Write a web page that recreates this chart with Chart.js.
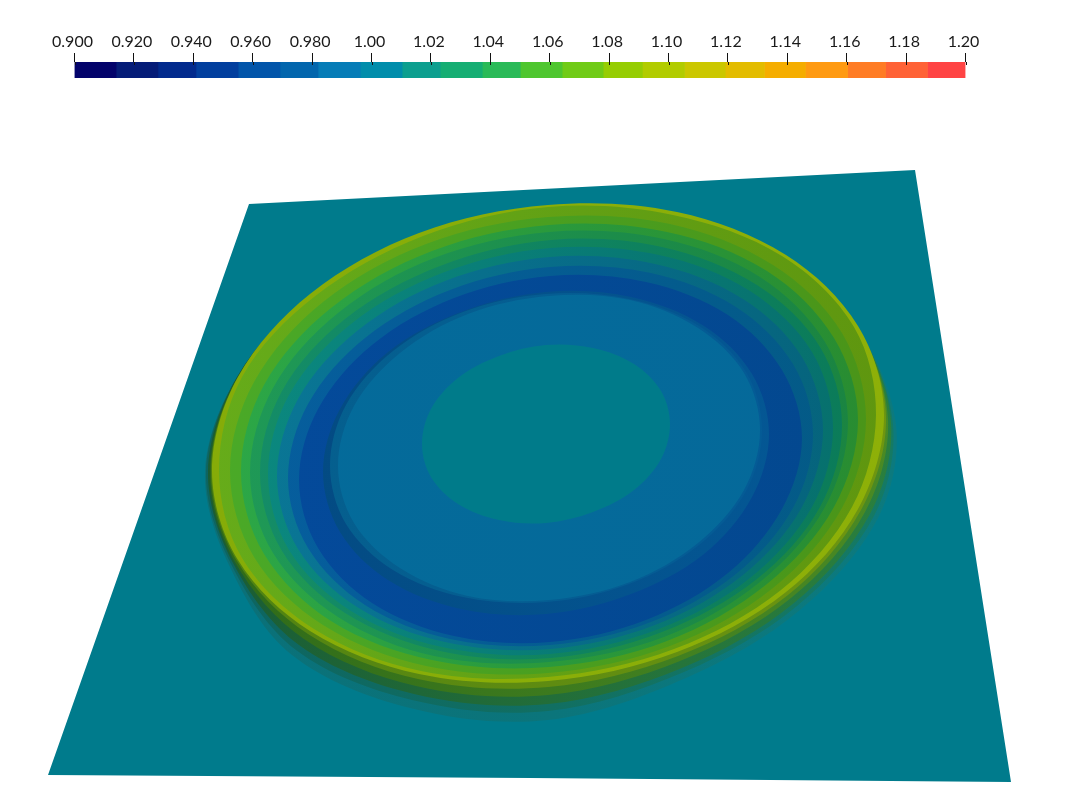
<!DOCTYPE html>
<html>
<head>
<meta charset="utf-8">
<title>Colour map</title>
<script src="https://cdn.jsdelivr.net/npm/chart.js@4/dist/chart.umd.min.js"></script>
<style>
  html, body { margin: 0; padding: 0; background: #fff; }
  canvas { position: absolute; left: 0; top: 0; }
</style>
</head>
<body>
<canvas id="surface" width="1082" height="810"></canvas>
<canvas id="colorbar" width="1082" height="810"></canvas>
<script>
'use strict';

var tickValues = [0.90, 0.92, 0.94, 0.96, 0.98, 1.00, 1.02, 1.04, 1.06, 1.08, 1.10, 1.12, 1.14, 1.16, 1.18, 1.20];
var tickLabels = ['0.900', '0.920', '0.940', '0.960', '0.980', '1.00', '1.02', '1.04', '1.06', '1.08', '1.10', '1.12', '1.14', '1.16', '1.18', '1.20'];
// edges of the 22 discrete colour steps
var barEdges = [0.9, 0.914, 0.9281, 0.9409, 0.9551, 0.9692, 0.982, 0.9962, 1.0103, 1.0231, 1.0373, 1.0501, 1.0642, 1.078, 1.0912, 1.1054, 1.1191, 1.1323, 1.1461, 1.1603, 1.1731, 1.1872, 1.2];
var barColors = ['#03036b', '#051c78', '#022a8d', '#023f9e', '#0255aa', '#0366ad', '#067cb7', '#018dab', '#0c9f8f', '#16ae73', '#2aba58', '#4ec62f', '#70cb17', '#96cd03', '#b2cc00', '#cbc700', '#e3bc00', '#f5ad00', '#ff9a12', '#ff7c25', '#ff6236', '#ff4444'];

// flat sheet outline, read in image units
var sheetX = [249, 915, 1011, 530, 48];
var sheetY = [204, 170, 782, 778, 775];
var sheetColor = '#007b8c';

// contour outlines from the outer skirt inward
var contourX = [
  [896, 878, 800, 686, 548, 410, 292, 229, 205, 237, 311, 419, 548, 676, 785, 857],
  [893, 874, 797, 684, 548, 412, 296, 231, 206, 237, 311, 419, 548, 676, 785, 857],
  [891, 870, 794, 682, 548, 414, 299, 233, 208, 237, 311, 419, 548, 676, 785, 857],
  [888, 865, 791, 680, 548, 416, 304, 235, 210, 238, 311, 419, 548, 676, 785, 857],
  [886, 861, 788, 678, 548, 418, 308, 237, 211, 238, 311, 419, 548, 676, 785, 857],
  [884, 858, 786, 677, 548, 419, 310, 238, 212, 238, 310, 419, 548, 677, 786, 858],
  [876, 852, 781, 674, 548, 421, 314, 242, 219, 242, 314, 423, 548, 673, 782, 854],
  [866, 842, 773, 670, 548, 426, 323, 254, 230, 254, 323, 426, 548, 670, 773, 842],
  [858, 834, 767, 667, 549, 432, 331, 264, 241, 264, 331, 432, 549, 667, 767, 834],
  [848, 825, 760, 664, 549, 434, 338, 273, 250, 273, 338, 434, 549, 664, 760, 825],
  [842, 820, 757, 662, 551, 440, 345, 282, 260, 282, 345, 440, 551, 662, 757, 820],
  [833, 812, 750, 659, 550, 442, 351, 289, 268, 289, 351, 442, 550, 659, 750, 812],
  [823, 802, 743, 655, 550, 445, 357, 298, 277, 298, 357, 445, 550, 655, 743, 802],
  [813, 793, 736, 651, 550, 450, 365, 308, 288, 308, 365, 450, 550, 651, 736, 793],
  [802, 782, 728, 646, 550, 454, 372, 318, 299, 318, 372, 454, 550, 646, 728, 782],
  [769, 752, 704, 631, 546, 461, 388, 340, 323, 340, 388, 461, 546, 631, 704, 752],
  [762, 746, 699, 629, 546, 463, 393, 346, 330, 346, 393, 463, 546, 629, 699, 746],
  [760, 744, 698, 630, 549, 468, 400, 354, 338, 354, 400, 468, 549, 630, 698, 744],
  [670, 661, 634, 593, 546, 499, 458, 431, 422, 431, 458, 499, 546, 593, 634, 661]
];
var contourY = [
  [425, 518, 610, 678, 720, 708, 655, 565, 471, 377, 295, 234, 206, 213, 256, 327],
  [424, 516, 606, 672, 711, 700, 650, 564, 471, 377, 295, 234, 206, 213, 256, 327],
  [422, 514, 603, 668, 704, 694, 645, 563, 471, 377, 295, 234, 206, 213, 256, 327],
  [420, 512, 598, 661, 695, 686, 639, 562, 471, 377, 295, 234, 206, 213, 256, 327],
  [417, 510, 595, 656, 687, 679, 634, 561, 471, 377, 295, 234, 206, 213, 256, 327],
  [415, 509, 592, 652, 681, 674, 631, 560, 471, 377, 294, 233, 205, 212, 255, 326],
  [415, 507, 590, 649, 677, 671, 629, 558, 470, 377, 297, 236, 207, 215, 256, 327],
  [419, 508, 588, 646, 673, 666, 625, 557, 471, 382, 302, 244, 217, 224, 265, 333],
  [420, 507, 584, 641, 667, 660, 621, 554, 472, 385, 308, 251, 225, 232, 271, 338],
  [422, 507, 582, 637, 662, 656, 617, 553, 473, 388, 313, 258, 232, 239, 277, 342],
  [425, 507, 579, 632, 658, 651, 613, 551, 473, 391, 319, 266, 240, 247, 285, 347],
  [428, 507, 578, 629, 654, 647, 611, 550, 474, 395, 324, 273, 248, 255, 291, 352],
  [430, 507, 575, 625, 649, 642, 607, 549, 476, 399, 331, 281, 257, 264, 299, 357],
  [434, 508, 574, 622, 645, 639, 605, 548, 478, 404, 338, 290, 267, 273, 307, 364],
  [438, 509, 573, 620, 642, 636, 603, 548, 480, 409, 345, 298, 276, 282, 315, 370],
  [434, 497, 554, 594, 614, 609, 580, 532, 472, 409, 352, 312, 292, 297, 326, 374],
  [430, 491, 545, 584, 602, 597, 570, 524, 466, 405, 351, 312, 294, 299, 326, 372],
  [430, 490, 543, 582, 600, 596, 568, 523, 466, 406, 353, 314, 296, 300, 328, 373],
  [424, 459, 490, 512, 523, 520, 504, 477, 444, 409, 378, 356, 345, 348, 364, 391]
];
// contour colours on the left and right side of the relief
var contourWest = ['#0a7078', '#0d6460', '#1a5c34', '#2f6a18', '#4f8212', '#86ac08', '#66ac1a', '#4aaa28', '#2ca848', '#1f9a58', '#158e68', '#0b8a80', '#0a7898', '#065ea0', '#044a9c', '#03487f', '#05608c', '#046b9a', '#007b8a'];
var contourEast = ['#0c7a7e', '#157a64', '#2a7f3e', '#4a8a24', '#6f9610', '#8eb008', '#5f960f', '#4a9418', '#288b30', '#1a8340', '#0a7a58', '#066e6c', '#05627a', '#035a84', '#03488e', '#045a98', '#045a98', '#05699a', '#007b8a'];

function toPoints(xs, ys) {
  var points = [];
  for (var i = 0; i < xs.length; i++) {
    points.push({ x: xs[i], y: ys[i] });
  }
  return points;
}

// wrap the ends over so the spline stays smooth where the outline closes
function closeOutline(points) {
  var n = points.length;
  return [points[n - 1]].concat(points, [points[0], points[1]]);
}

var surfaceCanvas = document.getElementById('surface');
var surfaceCtx = surfaceCanvas.getContext('2d');

function sideGradient(west, east) {
  var gradient = surfaceCtx.createLinearGradient(205, 0, 897, 0);
  gradient.addColorStop(0, west);
  gradient.addColorStop(1, east);
  return gradient;
}

var surfaceSets = [{
  data: toPoints(sheetX, sheetY).concat([{ x: sheetX[0], y: sheetY[0] }]),
  backgroundColor: sheetColor,
  tension: 0,
  fill: 'shape'
}];
for (var i = 0; i < contourX.length; i++) {
  surfaceSets.push({
    data: closeOutline(toPoints(contourX[i], contourY[i])),
    backgroundColor: sideGradient(contourWest[i], contourEast[i]),
    tension: 0.34,
    fill: 'shape'
  });
}
// the first dataset is painted last, the contours go outside first
surfaceSets.reverse();

new Chart(surfaceCtx, {
  type: 'scatter',
  data: { datasets: surfaceSets },
  options: {
    responsive: false,
    animation: false,
    showLine: true,
    layout: { padding: 0 },
    elements: {
      point: { radius: 0 },
      line: { borderWidth: 0, borderColor: 'transparent' }
    },
    plugins: { legend: { display: false }, tooltip: { enabled: false } },
    scales: {
      x: { type: 'linear', min: 0, max: 1082, display: false },
      y: { type: 'linear', min: 0, max: 810, reverse: true, display: false }
    }
  }
});

var barSets = [];
for (var j = 0; j < barColors.length; j++) {
  barSets.push({
    data: [[barEdges[j], barEdges[j + 1]]],
    backgroundColor: barColors[j],
    grouped: false,
    barPercentage: 1,
    categoryPercentage: 1
  });
}

// ticks run a little way into the bar
var tickOverlap = {
  id: 'tickOverlap',
  afterDatasetsDraw: function (chart) {
    var scale = chart.scales.x;
    var ctx = chart.ctx;
    ctx.save();
    ctx.strokeStyle = '#111';
    ctx.lineWidth = 1;
    scale.ticks.forEach(function (tick, index) {
      var px = Math.round(scale.getPixelForTick(index)) + 0.5;
      ctx.beginPath();
      ctx.moveTo(px, chart.chartArea.top);
      ctx.lineTo(px, chart.chartArea.top + 3);
      ctx.stroke();
    });
    ctx.restore();
  }
};

new Chart(document.getElementById('colorbar').getContext('2d'), {
  type: 'bar',
  data: { labels: [''], datasets: barSets },
  plugins: [tickOverlap],
  options: {
    responsive: false,
    animation: false,
    indexAxis: 'y',
    layout: { padding: { left: 74.5, right: 116.5, top: 30, bottom: 732 } },
    plugins: { legend: { display: false }, tooltip: { enabled: false } },
    scales: {
      x: {
        type: 'linear',
        position: 'top',
        min: tickValues[0],
        max: tickValues[tickValues.length - 1],
        border: { display: false },
        grid: { drawOnChartArea: false, tickLength: 9, color: '#111', lineWidth: 1 },
        afterBuildTicks: function (axis) {
          axis.ticks = tickValues.map(function (v) { return { value: v }; });
        },
        // the layout caps an axis at half the free height, so set it here
        afterFit: function (axis) {
          axis.height = 32;
        },
        ticks: {
          padding: 2,
          labelOffset: -2,
          maxRotation: 0,
          autoSkip: false,
          color: '#1a1a1a',
          font: { family: 'Lato', size: 16 },
          callback: function (value, index) { return tickLabels[index]; }
        }
      },
      y: { display: false }
    }
  }
});
</script>
</body>
</html>
